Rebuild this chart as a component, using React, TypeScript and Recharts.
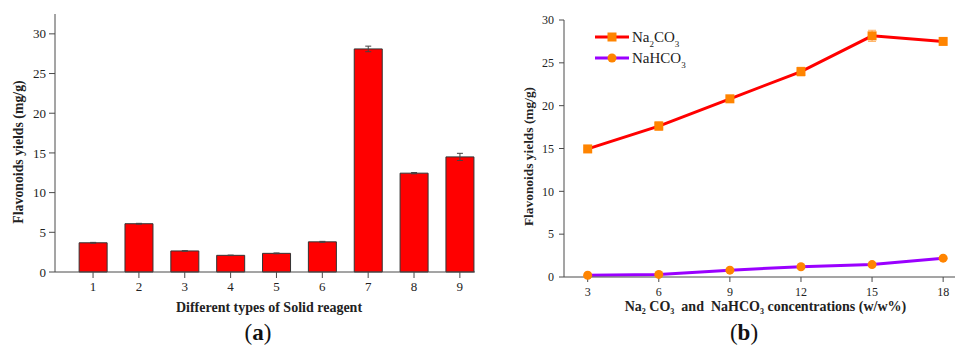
import {
  Bar,
  BarChart,
  ErrorBar,
  Label,
  Legend,
  Line,
  LineChart,
  XAxis,
  YAxis,
} from "recharts";

const reagentTypes = [1, 2, 3, 4, 5, 6, 7, 8, 9];
const reagentYield = [3.68, 6.08, 2.65, 2.1, 2.35, 3.8, 28.1, 12.45, 14.5];
const reagentErr = [0.05, 0.05, 0.04, 0.03, 0.05, 0.06, 0.35, 0.08, 0.45];

const concentrations = [3, 6, 9, 12, 15, 18];
const na2co3Yield = [14.95, 17.62, 20.8, 23.98, 28.15, 27.5];
const na2co3Err = [0.1, 0.5, 0.2, 0.5, 0.65, 0.3];
const nahco3Yield = [0.2, 0.3, 0.8, 1.2, 1.45, 2.2];
const nahco3Err = [0.05, 0.05, 0.05, 0.08, 0.08, 0.1];

const yTicksA = [0, 5, 10, 15, 20, 25, 30];
const yTicksB = [0, 5, 10, 15, 20, 25, 30];

const seriesNames = ["Na2CO3", "NaHCO3"];

const barData = reagentTypes.map((t, i) => ({
  type: t,
  yield: reagentYield[i],
  err: reagentErr[i],
}));

const lineData = concentrations.map((c, i) => ({
  conc: c,
  na2co3: na2co3Yield[i],
  na2co3Err: na2co3Err[i],
  nahco3: nahco3Yield[i],
  nahco3Err: nahco3Err[i],
}));

const serif = "'Liberation Serif', 'Times New Roman', serif";
const axisColor = "#4a4a4a";
const orange = "#ff8400";

// digits become subscripts
function chem(text: string, shift: number, subSize: number) {
  const parts = text.match(/\d+|\D+/g) || [];
  let down = false;
  return parts.map((p, i) => {
    const isNum = /^\d+$/.test(p);
    const dy = isNum ? shift : down ? -shift : 0;
    down = isNum;
    return (
      <tspan key={i} dy={dy} fontSize={isNum ? subSize : undefined}>
        {p}
      </tspan>
    );
  });
}

const SquareDot = (props: any) => {
  const { cx, cy } = props;
  if (cx == null || cy == null) return null;
  return <rect x={cx - 4.5} y={cy - 4.5} width={9} height={9} fill={orange} />;
};

const CircleDot = (props: any) => {
  const { cx, cy } = props;
  if (cx == null || cy == null) return null;
  return <circle cx={cx} cy={cy} r={4.5} fill={orange} />;
};

function LegendBox() {
  const colors = ["#ff0000", "#9a00ff"];
  return (
    <svg width={130} height={44}>
      {seriesNames.map((name, i) => {
        const y = 10 + i * 21;
        return (
          <g key={name}>
            <line x1={0} x2={34} y1={y} y2={y} stroke={colors[i]} strokeWidth={3} />
            {i === 0 ? (
              <rect x={12.5} y={y - 4.5} width={9} height={9} fill={orange} />
            ) : (
              <circle cx={17} cy={y} r={4.5} fill={orange} />
            )}
            <text x={37} y={y + 5} fontFamily={serif} fontSize={15} fill="#222">
              {chem(name, 5, 9)}
            </text>
          </g>
        );
      })}
    </svg>
  );
}

function ChartA() {
  return (
    <BarChart
      width={480}
      height={320}
      data={barData}
      margin={{ top: 14, right: 5, bottom: 18, left: 15 }}
    >
      <XAxis
        dataKey="type"
        type="number"
        domain={[0.17, 9.33]}
        ticks={reagentTypes}
        allowDataOverflow
        height={30}
        stroke={axisColor}
        tickSize={6}
        tickMargin={4}
        tick={{ fill: "#222", fontSize: 13, fontFamily: serif }}
      >
        <Label
          content={({ viewBox }: any) => (
            <text
              x={viewBox.x + viewBox.width / 2 + 4}
              y={viewBox.y + 35}
              textAnchor="middle"
              dominantBaseline="central"
              fontFamily={serif}
              fontWeight="bold"
              fontSize={14}
              fill="#222"
            >
              Different types of Solid reagent
            </text>
          )}
        />
      </XAxis>
      <YAxis
        domain={[0, 32.5]}
        ticks={yTicksA}
        width={40}
        stroke={axisColor}
        tickSize={6}
        tickMargin={3}
        tick={{ fill: "#222", fontSize: 13, fontFamily: serif }}
      >
        <Label
          content={({ viewBox }: any) => {
            const cx = viewBox.x + 3;
            const cy = viewBox.y + viewBox.height / 2 + 9;
            return (
              <text
                x={cx}
                y={cy}
                transform={`rotate(-90, ${cx}, ${cy})`}
                textAnchor="middle"
                dominantBaseline="central"
                fontFamily={serif}
                fontWeight="bold"
                fontSize={13.8}
                fill="#222"
              >
                Flavonoids yields (mg/g)
              </text>
            );
          }}
        />
      </YAxis>
      <Bar
        dataKey="yield"
        fill="#ff0000"
        stroke="#333"
        strokeWidth={1}
        barSize={28}
        isAnimationActive={false}
      >
        <ErrorBar dataKey="err" width={3} stroke="#444" strokeWidth={1} />
      </Bar>
    </BarChart>
  );
}

function ChartB() {
  return (
    <LineChart
      width={476}
      height={320}
      data={lineData}
      margin={{ top: 20, right: 1, bottom: 13, left: 40 }}
    >
      <XAxis
        dataKey="conc"
        type="number"
        domain={[2, 18.5]}
        ticks={concentrations}
        allowDataOverflow
        height={30}
        stroke={axisColor}
        tickSize={5}
        tickMargin={5}
        tick={{ fill: "#222", fontSize: 12, fontFamily: serif }}
      >
        <Label
          content={({ viewBox }: any) => (
            <text
              x={viewBox.x + viewBox.width / 2 + 6}
              y={viewBox.y + 29}
              textAnchor="middle"
              dominantBaseline="central"
              fontFamily={serif}
              fontWeight="bold"
              fontSize={14}
              fill="#222"
              style={{ whiteSpace: "pre" }}
            >
              {chem("Na2 CO3  and  NaHCO3 concentrations (w/w%)", 5, 8)}
            </text>
          )}
        />
      </XAxis>
      <YAxis
        domain={[0, 30]}
        ticks={yTicksB}
        width={44}
        stroke={axisColor}
        tickSize={5}
        tickMargin={5}
        tick={{ fill: "#222", fontSize: 12, fontFamily: serif }}
      >
        <Label
          content={({ viewBox }: any) => {
            const cx = viewBox.x + 8;
            const cy = viewBox.y + viewBox.height / 2 + 8;
            return (
              <text
                x={cx}
                y={cy}
                transform={`rotate(-90, ${cx}, ${cy})`}
                textAnchor="middle"
                dominantBaseline="central"
                fontFamily={serif}
                fontWeight="bold"
                fontSize={13.4}
                fill="#222"
              >
                Flavonoids yields (mg/g)
              </text>
            );
          }}
        />
      </YAxis>
      <Legend
        layout="horizontal"
        verticalAlign="middle"
        align="center"
        content={() => <LegendBox />}
        wrapperStyle={{ left: 115, top: 27, width: 130, height: 44 }}
      />
      <Line
        dataKey="na2co3"
        name={seriesNames[0]}
        stroke="#ff0000"
        strokeWidth={3}
        dot={<SquareDot />}
        activeDot={false}
        isAnimationActive={false}
      >
        <ErrorBar dataKey="na2co3Err" width={4} stroke="#ffb060" strokeWidth={1} />
      </Line>
      <Line
        dataKey="nahco3"
        name={seriesNames[1]}
        stroke="#9a00ff"
        strokeWidth={3}
        dot={<CircleDot />}
        activeDot={false}
        isAnimationActive={false}
      >
        <ErrorBar dataKey="nahco3Err" width={4} stroke="#ffb060" strokeWidth={1} />
      </Line>
    </LineChart>
  );
}

export default function App() {
  return (
    <div
      style={{
        position: "absolute",
        left: 0,
        top: 0,
        width: 956,
        height: 349,
        background: "#fff",
        overflow: "hidden",
      }}
    >
      <div style={{ position: "absolute", left: 0, top: 0 }}>
        <ChartA />
      </div>
      <div style={{ position: "absolute", left: 480, top: 0 }}>
        <ChartB />
      </div>
      <div
        style={{
          position: "absolute",
          left: 238,
          top: 320,
          width: 40,
          textAlign: "center",
          fontFamily: serif,
          fontSize: 23,
          color: "#111",
        }}
      >
        (<b>a</b>)
      </div>
      <div
        style={{
          position: "absolute",
          left: 724,
          top: 320,
          width: 40,
          textAlign: "center",
          fontFamily: serif,
          fontSize: 23,
          color: "#111",
        }}
      >
        (<b>b</b>)
      </div>
    </div>
  );
}
